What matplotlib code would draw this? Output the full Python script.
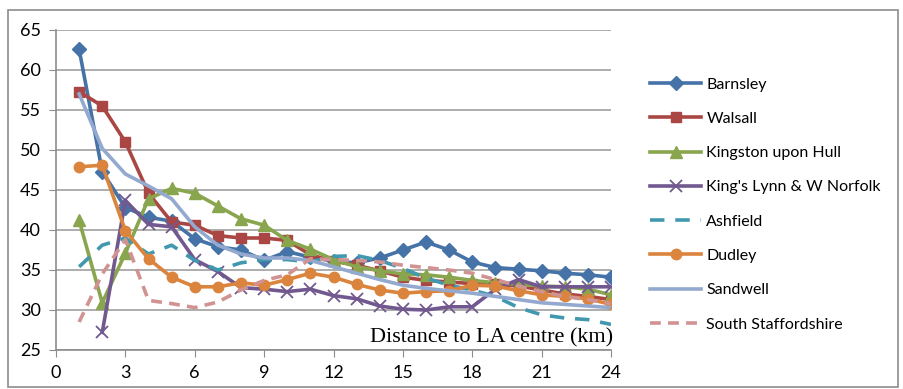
import matplotlib
matplotlib.use("Agg")
import matplotlib.pyplot as plt
from matplotlib.patches import Rectangle

distance = list(range(1, 25))

barnsley = [62.6, 47.3, 42.8, 41.6, 41.1, 38.9, 37.9, 37.5, 36.2, 37.3, 36.6, 36.1, 35.9, 36.5,
            37.5, 38.5, 37.5, 36.0, 35.3, 35.1, 34.9, 34.6, 34.4, 34.1]
walsall = [57.3, 55.5, 51.0, 44.6, 41.0, 40.6, 39.3, 39.0, 39.0, 38.7, 36.9, 36.1, 35.6, 34.9,
           34.1, 33.7, 33.5, 33.3, 33.2, 33.0, 32.5, 32.0, 31.7, 31.3]
hull = [41.2, 30.9, 37.1, 43.9, 45.2, 44.6, 43.0, 41.4, 40.6, 38.7, 37.6, 36.3, 35.4, 34.9,
        34.5, 34.4, 34.1, 33.7, 33.4, 33.2, 33.0, 32.9, 32.6, 31.9]
kings_lynn = [None, 27.2, 43.7, 40.7, 40.4, 36.3, 34.8, 32.8, 32.6, 32.3, 32.6, 31.8, 31.4, 30.5,
              30.1, 30.0, 30.4, 30.4, 32.6, 33.8, 32.9, 32.9, 32.9, 32.9]
ashfield = [35.4, 38.1, 39.0, 37.0, 38.1, 36.2, 35.0, 35.9, 36.3, 36.3, 36.0, 36.7, 36.8, 36.2,
            35.2, 34.0, 33.1, 32.5, 31.7, 30.3, 29.4, 29.0, 28.8, 28.2]
dudley = [47.9, 48.1, 39.9, 36.4, 34.1, 32.9, 32.9, 33.4, 33.1, 33.8, 34.6, 34.1, 33.2, 32.5,
          32.1, 32.3, 32.4, 33.1, 33.0, 32.4, 31.9, 31.7, 31.4, 30.7]
sandwell = [57.0, 50.2, 47.0, 45.5, 43.9, 40.4, 38.1, 37.0, 36.5, 36.5, 36.2, 35.4, 34.6, 33.8,
            33.1, 32.7, 32.4, 32.1, 31.7, 31.3, 30.9, 30.7, 30.5, 30.3]
south_staffs = [28.5, 34.5, 38.8, 31.2, 30.8, 30.3, 31.0, 32.5, 33.7, 34.4, 36.4, 36.3, 36.2, 36.0,
                35.6, 35.3, 35.0, 34.6, 33.8, 33.0, 32.3, 31.7, 31.3, 30.8]

series_names = ["Barnsley", "Walsall", "Kingston upon Hull", "King's Lynn & W Norfolk",
                "Ashfield", "Dudley", "Sandwell", "South Staffordshire"]
x_ticks = [0, 3, 6, 9, 12, 15, 18, 21, 24]
y_ticks = [25, 30, 35, 40, 45, 50, 55, 60, 65]
x_label = "Distance to LA centre (km)"

fig = plt.figure(figsize=(9.04, 3.89), dpi=100)
W, H = 904, 389
ax = fig.add_axes([56 / W, 1 - 350 / H, (611 - 56) / W, (350 - 30) / H])

# outer chart frame
fig.patches.append(Rectangle((8 / W, 2 / H), (898 - 8) / W, (379 - 2) / H,
                             transform=fig.transFigure, fill=False,
                             edgecolor="#8c8c8c", linewidth=1.2))

lw = 2.6
styles = [
    dict(color="#4572A7", marker="D", markersize=7),
    dict(color="#AA4643", marker="s", markersize=7.5),
    dict(color="#89A54E", marker="^", markersize=9),
    dict(color="#71588F", marker="x", markersize=9, markeredgewidth=1.3),
    dict(color="#4198AF", linestyle=(0, (4, 3))),
    dict(color="#DB843D", marker="o", markersize=7.5),
    dict(color="#93A9CF"),
    dict(color="#D19392", linestyle=(0, (3, 2))),
]
data = [barnsley, walsall, hull, kings_lynn, ashfield, dudley, sandwell, south_staffs]

handles = []
for name, ys, st in zip(series_names, data, styles):
    xs = [x for x, y in zip(distance, ys) if y is not None]
    yv = [y for y in ys if y is not None]
    h, = ax.plot(xs, yv, linewidth=lw, label=name, zorder=3, **st)
    handles.append(h)

ax.set_xlim(0, 24)
ax.set_ylim(25, 65)
ax.set_xticks(x_ticks)
ax.set_yticks(y_ticks)
ax.grid(axis="y", color="#a0a0a0", linewidth=1.2, zorder=0)
for s in ["top", "right"]:
    ax.spines[s].set_visible(False)
for s in ["left", "bottom"]:
    ax.spines[s].set_color("#8c8c8c")
    ax.spines[s].set_linewidth(1.2)
ax.tick_params(axis="both", direction="out", length=5, color="#8c8c8c",
               labelsize=13, pad=6)
for lab in ax.get_xticklabels() + ax.get_yticklabels():
    lab.set_fontfamily("Lato")

ax.text(1.004, 0.022, x_label, transform=ax.transAxes, ha="right", va="baseline",
        fontsize=16, family="Liberation Serif", zorder=5)

leg = fig.legend(handles=handles, loc="upper left",
                 bbox_to_anchor=(636 / W, 1 - 63 / H), frameon=False,
                 prop={"family": "Lato", "size": 11.5},
                 handlelength=3.2, labelspacing=1.26, handletextpad=0.3)

fig.savefig("out.png", dpi=100)
